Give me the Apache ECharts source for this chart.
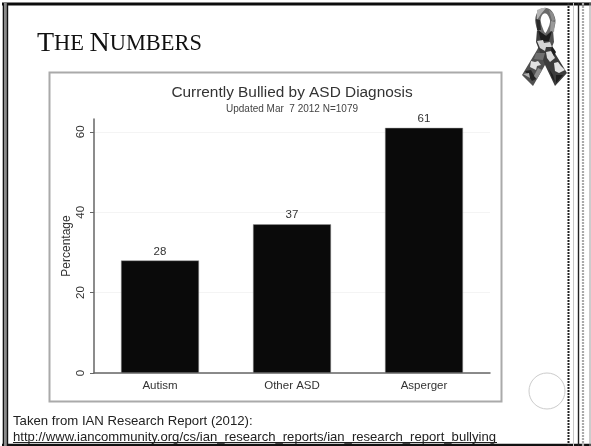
<!DOCTYPE html>
<html>
<head>
<meta charset="utf-8">
<style>html,body{margin:0;padding:0;background:#fff}#c{width:591px;height:446px}</style>
<script src="https://cdn.jsdelivr.net/npm/echarts@6/dist/echarts.min.js"></script>
</head>
<body>
<div id="c"></div>
<script>
// Share of children currently bullied, by ASD diagnosis
const categories = ['Autism', 'Other ASD', 'Asperger'];
const percentages = [28, 37, 61];
const yTicks = [0, 20, 40, 60];
const yMax = 63.2;

const chartTitle = 'Currently Bullied by ASD Diagnosis';
const chartSubtitle = 'Updated Mar  7 2012 N=1079';
const sourceLine = 'Taken from IAN Research Report (2012):';
const sourceUrl = 'http://www.iancommunity.org/cs/ian_research_reports/ian_research_report_bullying';

const vline = (x, w, color, dash, y1 = 3, y2 = 446) => ({
  type: 'line', silent: true,
  shape: { x1: x, y1, x2: x, y2 },
  style: { stroke: color, lineWidth: w, lineDash: dash || null }
});
const hline = (y, w, color, x1 = 2, x2 = 591) => ({
  type: 'line', silent: true,
  shape: { x1, y1: y, x2, y2: y },
  style: { stroke: color, lineWidth: w }
});
const poly = (points, fill) => ({
  type: 'polygon', silent: true, shape: { points }, style: { fill }
});

// Slide frame
const frame = [
  hline(4, 3, '#0c0c0c'),
  hline(445, 2.4, '#111'),
  vline(3.5, 1.6, '#111'),
  vline(5.5, 3, '#8a8a8a'),
  vline(7.5, 1.4, '#111'),
  vline(568.5, 2, '#222', [2, 1]),
  vline(573.5, 1, '#c8c8c8'),
  vline(578.5, 1.4, '#222'),
  vline(583, 2.2, '#aaa', [2, 1]),
  vline(590, 1, '#999')
];

// Awareness ribbon with a jigsaw patchwork
const ribbon = [
  // Loop
  {
    type: 'polyline', silent: true,
    shape: {
      smooth: 0.5,
      points: [[545, 38], [539, 26], [539, 15], [545, 10.5], [551, 15], [552, 26], [545, 38]]
    },
    style: { stroke: '#6a6a6a', lineWidth: 5.5, fill: 'none' }
  },
  // Crossing strands
  poly([[522, 75], [533, 86], [545, 65], [554, 42], [553, 30], [544, 36], [537, 50]], '#505050'),
  poly([[567, 73], [555, 86], [545, 65], [536, 42], [537, 30], [546, 36], [553, 50]], '#3c3c3c'),
  // Jigsaw pieces
  poly([[537, 10], [542, 8], [546, 8], [541, 14], [537, 20]], '#b4b4b4'),
  poly([[549, 10], [553, 13], [555, 20], [552, 21]], '#8d8d8d'),
  poly([[551, 21], [555, 22], [554, 32], [550, 31]], '#9a9a9a'),
  poly([[536, 19], [540, 20], [541, 30], [537, 30]], '#2a2a2a'),
  poly([[538, 30], [546, 36], [552, 31], [549, 41], [541, 41]], '#1c1c1c'),
  poly([[537, 41], [543, 40], [544, 43], [550, 42], [552, 47], [546, 47], [545, 51], [540, 48]], '#d6d6d6'),
  poly([[546, 52], [551, 51], [555, 58], [550, 62], [547, 58]], '#dadada'),
  poly([[552, 46], [556, 52], [554, 56], [551, 50]], '#1d1d1d'),
  poly([[536, 53], [545, 53], [543, 60], [534, 59]], '#6f6f6f'),
  poly([[531, 61], [535, 62], [538, 61], [541, 65], [537, 66], [536, 70], [530, 67]], '#e2e2e2'),
  poly([[554, 63], [558, 62], [561, 66], [565, 70], [559, 73], [555, 71]], '#e4e4e4'),
  poly([[525, 71], [531, 70], [536, 79], [532, 81]], '#232323'),
  poly([[538, 68], [542, 70], [537, 79], [534, 76]], '#8a8a8a'),
  poly([[549, 69], [553, 75], [555, 82], [552, 78]], '#1f1f1f'),
  poly([[556, 75], [563, 75], [556, 83]], '#1c1c1c'),
  poly([[523, 74], [529, 73], [530, 78]], '#b0b0b0')
];

const plainTitle = (text, left, top, size, color, align) => ({
  text, left, top, padding: 0, textAlign: align || 'left',
  textStyle: { fontFamily: 'Liberation Sans', fontSize: size, fontWeight: 'normal', color }
});

const option = {
  animation: false,
  backgroundColor: '#fff',
  title: [
    {
      text: '{a|T}{b|HE }{a|N}{b|UMBERS}',
      left: 37, top: 30, padding: 0,
      textStyle: {
        rich: {
          a: { fontFamily: 'Liberation Serif', fontSize: 28, fontWeight: 'normal', color: '#111' },
          b: { fontFamily: 'Liberation Serif', fontSize: 22.4, fontWeight: 'normal', color: '#111' }
        }
      }
    },
    plainTitle(chartTitle, 292, 85, 15.4, '#333', 'center'),
    plainTitle(chartSubtitle, 292, 104, 10, '#444', 'center'),
    plainTitle(sourceLine, 13, 415, 13.2, '#222'),
    plainTitle(sourceUrl, 13, 431, 13.1, '#222')
  ],
  grid: { left: 94, top: 119, width: 396, height: 254 },
  xAxis: {
    type: 'category',
    data: categories,
    axisLine: { lineStyle: { color: '#666', width: 1.5 } },
    axisTick: { show: false },
    axisLabel: { fontFamily: 'Liberation Sans', fontSize: 11.5, color: '#333', margin: 7 }
  },
  yAxis: {
    type: 'value',
    min: 0,
    max: yMax,
    name: 'Percentage',
    nameLocation: 'middle',
    nameGap: 21,
    nameMoveOverlap: false,
    nameTextStyle: { fontFamily: 'Liberation Sans', fontSize: 12, color: '#333' },
    axisLine: { show: true, lineStyle: { color: '#666', width: 1.5 } },
    axisTick: { show: true, length: 4, lineStyle: { color: '#666' }, customValues: yTicks },
    axisLabel: { rotate: 90, fontFamily: 'Liberation Sans', fontSize: 11.5, color: '#333', margin: 7, customValues: yTicks },
    splitLine: { show: true, lineStyle: { color: '#f4f4f4', width: 1 } }
  },
  series: [{
    type: 'bar',
    data: percentages,
    barWidth: 78,
    itemStyle: { color: '#0a0a0a', borderColor: '#999', borderWidth: 0.5 },
    label: {
      show: true, position: 'top', distance: 3,
      fontFamily: 'Liberation Sans', fontSize: 11.5, color: '#333'
    }
  }],
  graphic: {
    elements: [
      ...frame,
      // Plot panel border
      {
        type: 'rect', silent: true,
        shape: { x: 49.5, y: 72.5, width: 452, height: 329 },
        style: { fill: 'none', stroke: '#aaa', lineWidth: 2 }
      },
      // Source link underline
      hline(442.5, 1, '#222', 13, 497),
      // Page number badge
      {
        type: 'circle', silent: true,
        shape: { cx: 547, cy: 391, r: 18 },
        style: { fill: '#fff', stroke: '#ccc', lineWidth: 1 }
      },
      ...ribbon
    ]
  }
};

echarts.init(document.getElementById('c'), null, { renderer: 'canvas' }).setOption(option);
</script>
</body>
</html>
